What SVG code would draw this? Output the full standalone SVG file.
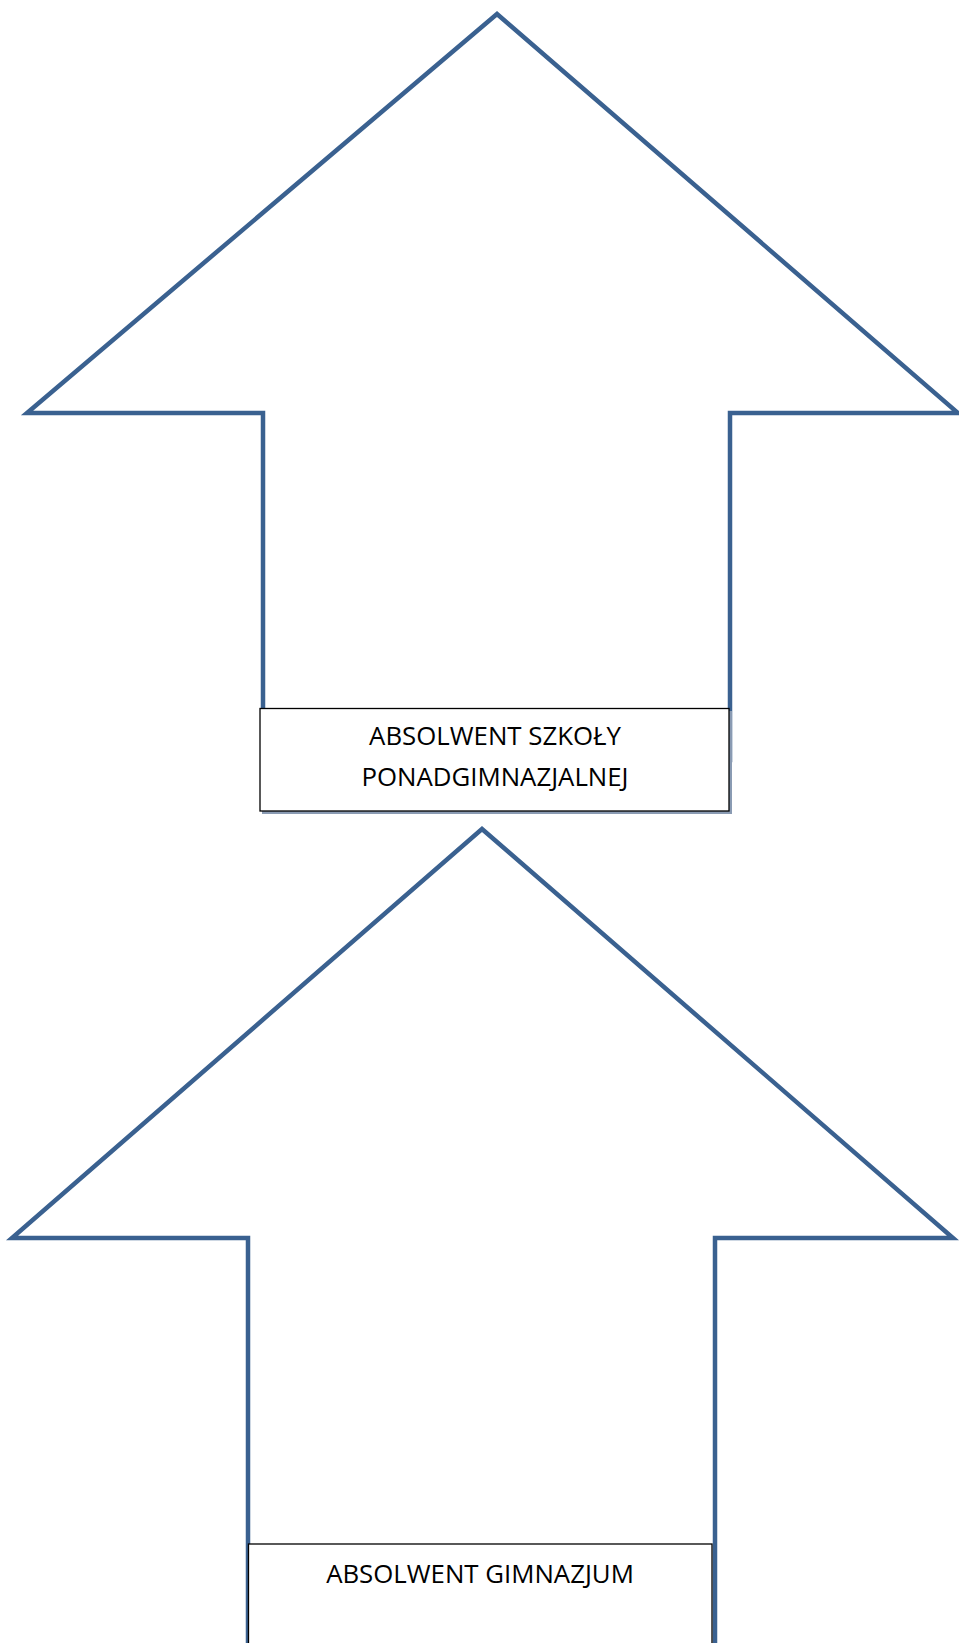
<svg xmlns="http://www.w3.org/2000/svg" width="959" height="1643" viewBox="0 0 959 1643">
<style>
.arrow{fill:#ffffff;stroke:#3A6190;stroke-width:4.5;stroke-linejoin:miter;stroke-miterlimit:10}
.box{fill:#ffffff;stroke:#000000;stroke-width:1.3}
.shadow{fill:#8a9bb3}
.lbl{font-family:"Open Sans","Liberation Sans",sans-serif;font-size:25.8px;fill:#000000;text-anchor:middle}
</style>
<rect width="959" height="1643" fill="#ffffff"/>
<g id="arrow-top">
<polygon class="arrow" points="497,14 958,413 730,413 730,760 263,760 263,413 27,413"/>
</g>
<g id="box-top">
<rect class="shadow" x="262" y="711" width="470" height="103"/>
<rect class="box" x="260" y="708.5" width="469" height="102.5"/>
<text class="lbl" x="495" y="745">ABSOLWENT SZKOŁY</text>
<text class="lbl" x="495" y="786">PONADGIMNAZJALNEJ</text>
</g>
<g id="arrow-bottom">
<polygon class="arrow" points="482,829 953,1238 715,1238 715,1660 248,1660 248,1238 12,1238"/>
</g>
<g id="box-bottom">
<rect class="box" x="248.5" y="1544" width="463.5" height="120"/>
<text class="lbl" x="480" y="1583">ABSOLWENT GIMNAZJUM</text>
</g>
<g id="connectors"></g>
</svg>
